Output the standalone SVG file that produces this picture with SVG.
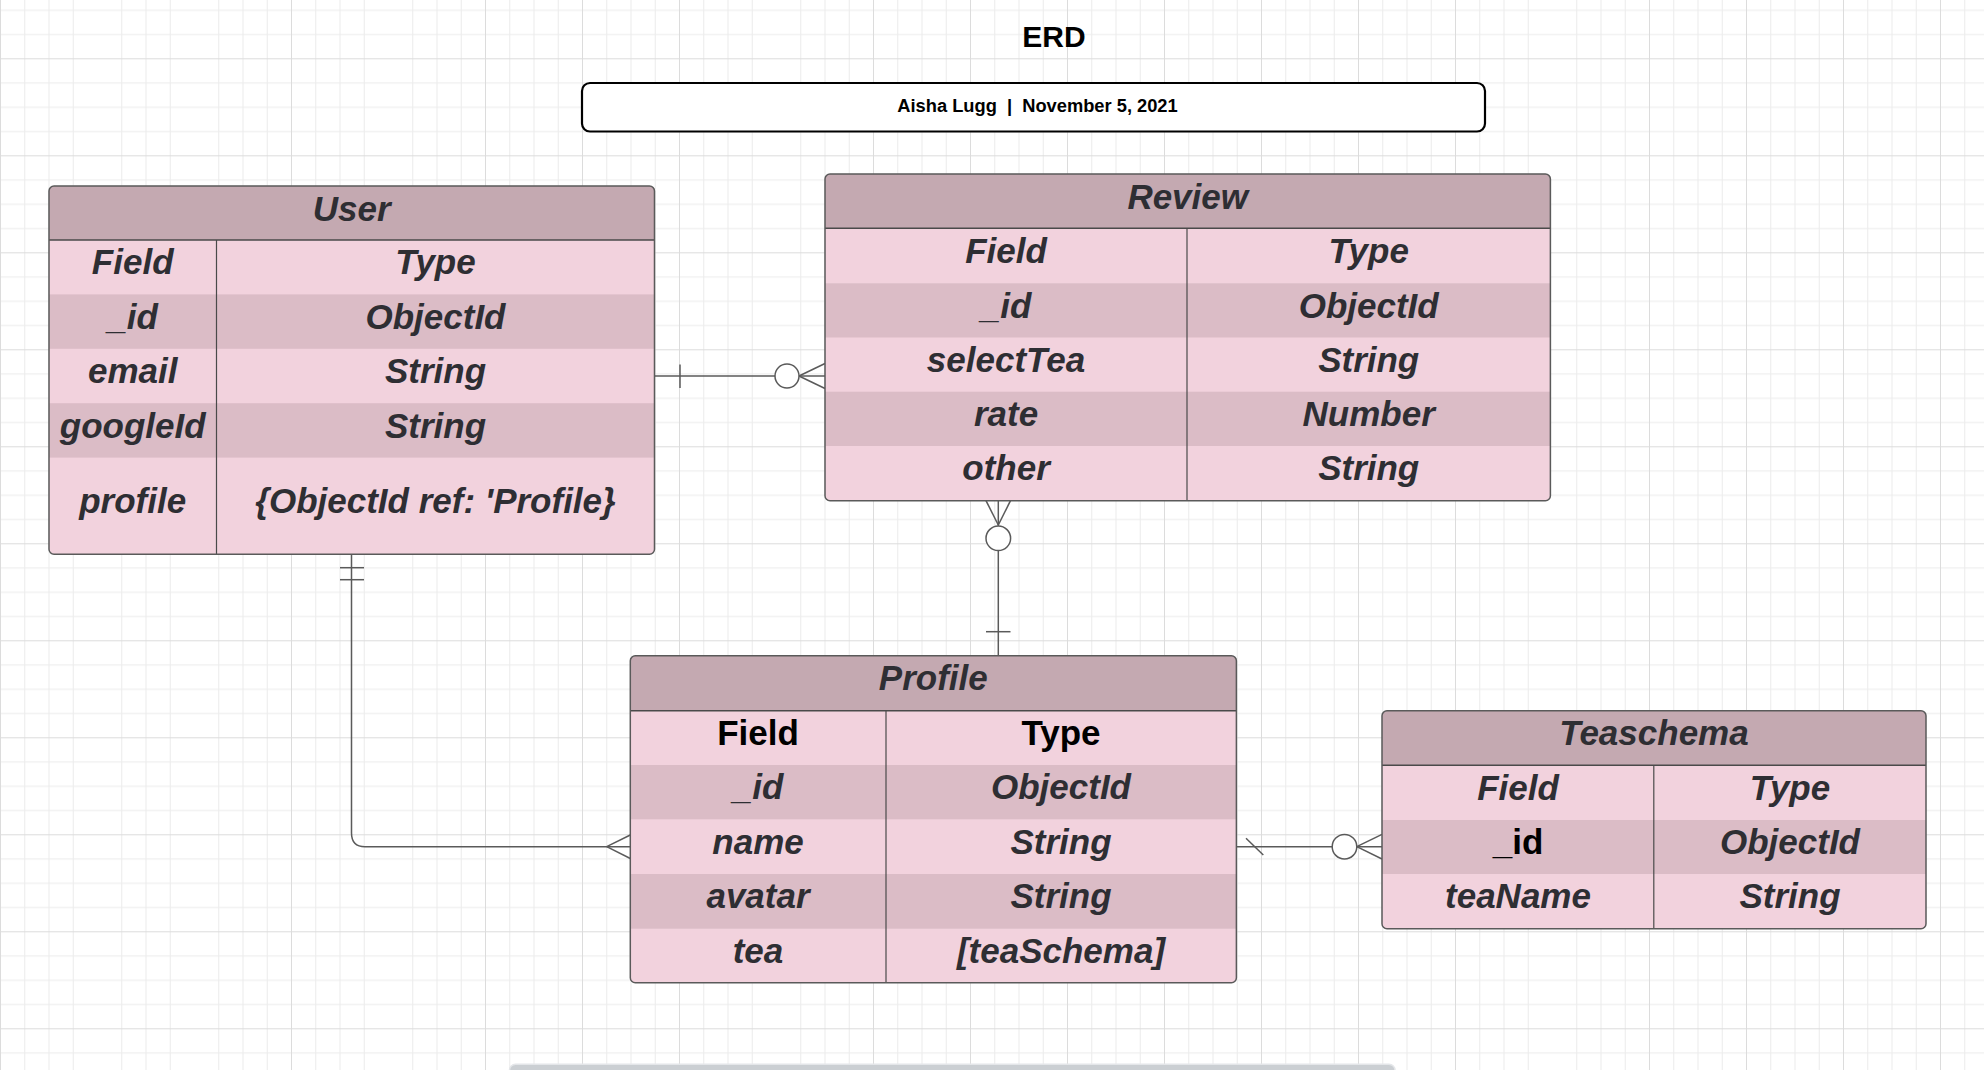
<svg xmlns="http://www.w3.org/2000/svg" width="1984" height="1070" viewBox="0 0 1984 1070">
<style>
  .hdr { fill: #C4A9B1; }
  .light { fill: #F2D2DD; }
  .dark { fill: #DBBCC6; }
  .frame { fill: none; stroke: #5a5a5a; stroke-width: 1.5; }
  .sep { stroke: #4a4a4a; stroke-width: 1.5; }
  .div { stroke: #4a4a4a; stroke-width: 1.2; }
  .t { font-family: "Liberation Sans", Arial, sans-serif; font-size: 35px; font-weight: bold; font-style: italic; fill: #2e2e33; text-anchor: middle; }
  .tb { font-family: "Liberation Sans", Arial, sans-serif; font-size: 35px; font-weight: bold; font-style: normal; fill: #000000; text-anchor: middle; }
  .conn { fill: none; stroke: #5a5a5a; stroke-width: 1.5; }
  .circ { fill: #ffffff; stroke: #5a5a5a; stroke-width: 1.5; }
  .title { font-family: "Liberation Sans", Arial, sans-serif; font-size: 30px; font-weight: bold; fill: #000; text-anchor: middle; }
  .sub { font-family: "Liberation Sans", Arial, sans-serif; font-size: 18.3px; font-weight: bold; fill: #000; text-anchor: middle; white-space: pre; }
</style>
<defs>
  <pattern id="grid" patternUnits="userSpaceOnUse" x="0" y="58.3" width="97" height="97">
    <rect x="0" y="0" width="97" height="97" fill="#ffffff"/>
    <rect x="24.25" y="0" width="1" height="97" fill="#ececec"/>
    <rect x="48.5" y="0" width="1" height="97" fill="#ececec"/>
    <rect x="72.75" y="0" width="1" height="97" fill="#ececec"/>
    <rect x="0" y="24.25" width="97" height="1" fill="#ececec"/>
    <rect x="0" y="48.5" width="97" height="1" fill="#ececec"/>
    <rect x="0" y="72.75" width="97" height="1" fill="#ececec"/>
    <rect x="0" y="0" width="1" height="97" fill="#dcdcdc"/>
    <rect x="0" y="0" width="97" height="1" fill="#dcdcdc"/>
  </pattern>
</defs>
<rect x="0" y="0" width="1984" height="1070" fill="url(#grid)"/>

<g id="title">
  <text class="title" x="1054" y="47">ERD</text>
</g>
<g id="subtitle">
  <rect x="582" y="83" width="903" height="48.5" rx="8" ry="8" fill="#ffffff" stroke="#000" stroke-width="2.2"/>
  <text class="sub" x="1037.5" y="111.5" xml:space="preserve">Aisha Lugg  |  November 5, 2021</text>
</g>

<g id="connectors">
  <line class="conn" x1="654.5" y1="376" x2="825" y2="376"/>
  <line class="conn" x1="680" y1="364.5" x2="680" y2="388"/>
  <line class="conn" x1="799" y1="376" x2="825" y2="363.5"/>
  <line class="conn" x1="799" y1="376" x2="825" y2="388.5"/>
  <circle class="circ" cx="787" cy="376" r="12"/>
  <path class="conn" d="M351.5,554.3 V833 Q351.5,846.7 365,846.7 H630.3"/>
  <line class="conn" x1="340" y1="567.7" x2="364" y2="567.7"/>
  <line class="conn" x1="340" y1="579.7" x2="364" y2="579.7"/>
  <line class="conn" x1="606.7" y1="846.7" x2="630.3" y2="835"/>
  <line class="conn" x1="606.7" y1="846.7" x2="630.3" y2="858.5"/>
  <line class="conn" x1="998.3" y1="500.7" x2="998.3" y2="655.7"/>
  <line class="conn" x1="998.3" y1="525" x2="986" y2="500.7"/>
  <line class="conn" x1="998.3" y1="525" x2="1010.5" y2="500.7"/>
  <circle class="circ" cx="998.3" cy="538.3" r="12.3"/>
  <line class="conn" x1="986" y1="631.7" x2="1010.5" y2="631.7"/>
  <line class="conn" x1="1236.4" y1="846.7" x2="1382" y2="846.7"/>
  <line class="conn" x1="1246" y1="838.3" x2="1263.3" y2="855"/>
  <line class="conn" x1="1356.8" y1="846.7" x2="1382" y2="834.3"/>
  <line class="conn" x1="1356.8" y1="846.7" x2="1382" y2="859"/>
  <circle class="circ" cx="1344.5" cy="846.7" r="12.3"/>
</g>

<g id="user">
  <rect class="light" x="49" y="186" width="605.5" height="368.3" rx="5"/>
  <path class="hdr" d="M49,240 V191 Q49,186 54,186 H649.5 Q654.5,186 654.5,191 V240 Z"/>
  <rect class="dark" x="49" y="294.4" width="605.5" height="54.4"/>
  <rect class="dark" x="49" y="403.2" width="605.5" height="54.4"/>
  <line class="sep" x1="49" y1="240" x2="654.5" y2="240"/>
  <line class="div" x1="216.5" y1="240" x2="216.5" y2="554.3"/>
  <rect class="frame" x="49" y="186" width="605.5" height="368.3" rx="5"/>
  <text class="t" x="351.7" y="220.5">User</text>
  <text class="t" x="132.7" y="274.4">Field</text>
  <text class="t" x="435.5" y="274.4">Type</text>
  <text class="t" x="132.7" y="328.8">_id</text>
  <text class="t" x="435.5" y="328.8">ObjectId</text>
  <text class="t" x="132.7" y="383.2">email</text>
  <text class="t" x="435.5" y="383.2">String</text>
  <text class="t" x="132.7" y="437.6">googleId</text>
  <text class="t" x="435.5" y="437.6">String</text>
  <text class="t" x="132.7" y="513">profile</text>
  <text class="t" x="435.5" y="513">{ObjectId ref: 'Profile}</text>
</g>

<g id="review">
  <rect class="light" x="825" y="174" width="725.4" height="326.7" rx="5"/>
  <path class="hdr" d="M825,228.3 V179 Q825,174 830,174 H1545.4 Q1550.4,174 1550.4,179 V228.3 Z"/>
  <rect class="dark" x="825" y="283.3" width="725.4" height="54.2"/>
  <rect class="dark" x="825" y="391.7" width="725.4" height="54.3"/>
  <line class="sep" x1="825" y1="228.3" x2="1550.4" y2="228.3"/>
  <line class="div" x1="1187" y1="228.3" x2="1187" y2="500.7"/>
  <rect class="frame" x="825" y="174" width="725.4" height="326.7" rx="5"/>
  <text class="t" x="1187.7" y="208.6">Review</text>
  <text class="t" x="1006" y="262.7">Field</text>
  <text class="t" x="1368.7" y="262.7">Type</text>
  <text class="t" x="1006" y="317.7">_id</text>
  <text class="t" x="1368.7" y="317.7">ObjectId</text>
  <text class="t" x="1006" y="371.9">selectTea</text>
  <text class="t" x="1368.7" y="371.9">String</text>
  <text class="t" x="1006" y="426.1">rate</text>
  <text class="t" x="1368.7" y="426.1">Number</text>
  <text class="t" x="1006" y="480.4">other</text>
  <text class="t" x="1368.7" y="480.4">String</text>
</g>

<g id="profile">
  <rect class="light" x="630.3" y="655.7" width="606.1" height="327" rx="5"/>
  <path class="hdr" d="M630.3,710.7 V660.7 Q630.3,655.7 635.3,655.7 H1231.4 Q1236.4,655.7 1236.4,660.7 V710.7 Z"/>
  <rect class="dark" x="630.3" y="765" width="606.1" height="54.3"/>
  <rect class="dark" x="630.3" y="874" width="606.1" height="54.7"/>
  <line class="sep" x1="630.3" y1="710.7" x2="1236.4" y2="710.7"/>
  <line class="div" x1="886" y1="710.7" x2="886" y2="982.7"/>
  <rect class="frame" x="630.3" y="655.7" width="606.1" height="327" rx="5"/>
  <text class="t" x="933.3" y="690.1">Profile</text>
  <text class="tb" x="758" y="745.1">Field</text>
  <text class="tb" x="1061" y="745.1">Type</text>
  <text class="t" x="758" y="799.4">_id</text>
  <text class="t" x="1061" y="799.4">ObjectId</text>
  <text class="t" x="758" y="853.7">name</text>
  <text class="t" x="1061" y="853.7">String</text>
  <text class="t" x="758" y="908.4">avatar</text>
  <text class="t" x="1061" y="908.4">String</text>
  <text class="t" x="758" y="963.1">tea</text>
  <text class="t" x="1061" y="963.1">[teaSchema]</text>
</g>

<g id="teaschema">
  <rect class="light" x="1382" y="710.7" width="544" height="218" rx="5"/>
  <path class="hdr" d="M1382,765.3 V715.7 Q1382,710.7 1387,710.7 H1921 Q1926,710.7 1926,715.7 V765.3 Z"/>
  <rect class="dark" x="1382" y="820" width="544" height="54"/>
  <line class="sep" x1="1382" y1="765.3" x2="1926" y2="765.3"/>
  <line class="div" x1="1653.8" y1="765.3" x2="1653.8" y2="928.7"/>
  <rect class="frame" x="1382" y="710.7" width="544" height="218" rx="5"/>
  <text class="t" x="1654" y="745.1">Teaschema</text>
  <text class="t" x="1518" y="799.7">Field</text>
  <text class="t" x="1790" y="799.7">Type</text>
  <text class="tb" x="1518" y="854.4">_id</text>
  <text class="t" x="1790" y="854.4">ObjectId</text>
  <text class="t" x="1518" y="908.4">teaName</text>
  <text class="t" x="1790" y="908.4">String</text>
</g>

<rect x="509.5" y="1064.3" width="885.5" height="20" rx="6" fill="#cbcfd3" stroke="#e4e6e9" stroke-width="1.5"/>
</svg>
